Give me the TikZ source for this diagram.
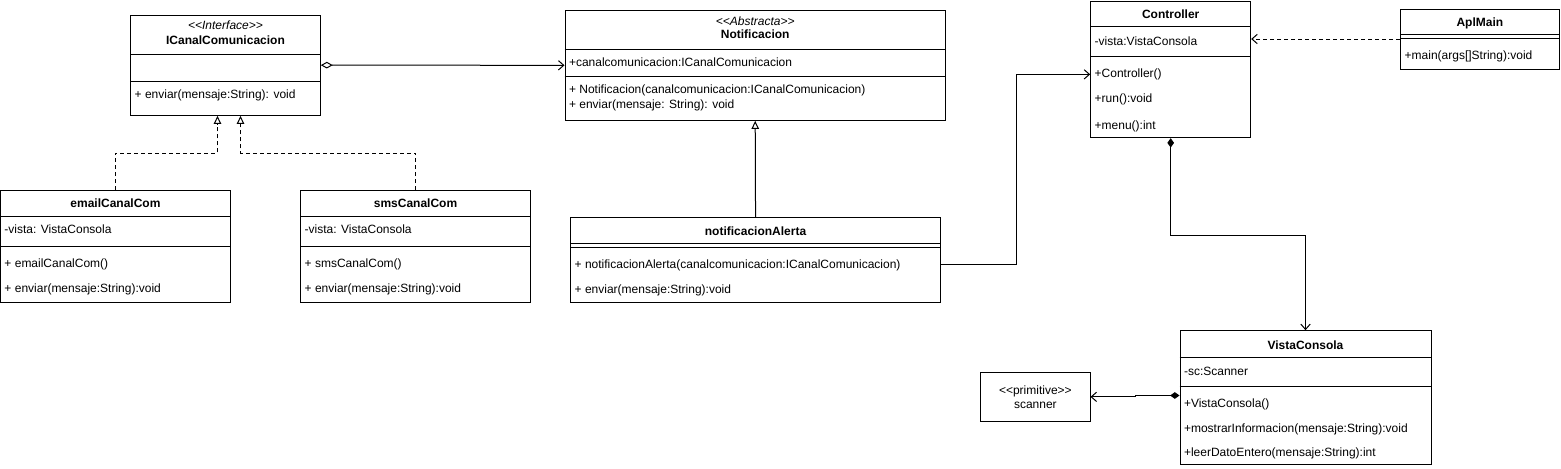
\documentclass[tikz,border=0pt]{standalone}
\usepackage{fontspec}
\setmainfont{Liberation Sans}
\usetikzlibrary{arrows.meta,fit,calc}

\begin{document}
\begin{tikzpicture}[x=0.75pt, y=-0.75pt, line width=0.75pt,
  every node/.style={font=\fontsize{9}{10.8}\selectfont},
  classbox/.style={draw, rectangle, inner sep=0pt, fit={#1}},
  classname/.style={font=\fontsize{9}{10.8}\selectfont\bfseries, inner sep=0pt},
  stereo/.style={font=\fontsize{9}{10.8}\selectfont\itshape, inner sep=0pt},
  member/.style={anchor=west, inner sep=0pt, xshift=3pt},
  aggreg/.style={{Diamond[open,length=9pt,width=5pt]}-{Straight Barb[length=4pt,width=7pt]}},
  compose/.style={{Diamond[length=7pt,width=5pt]}-{Straight Barb[length=4pt,width=7pt]}},
  realize/.style={dash pattern=on 3pt off 2.25pt, -{Triangle[open,length=6pt,width=5.5pt]}},
  inherit/.style={-{Triangle[open,length=6pt,width=5.5pt]}},
  assoc/.style={-{Straight Barb[length=4pt,width=7pt]}},
  depend/.style={dash pattern=on 3pt off 2.25pt, -{Straight Barb[length=4pt,width=7pt]}}]
  \useasboundingbox (0,0) rectangle (1561,468);

  % interface
  \node[classbox={(130.7,15) (320.3,115.3)}] (icanal) {};
  \node[stereo] (icanal-st) at (icanal.center |- 0,25) {<{}<Interface>{}>};
  \node[classname] (icanal-t) at (icanal.center |- 0,40.3) {ICanalComunicacion};
  \draw (icanal.west |- 0,54.3) -- (icanal.east |- 0,54.3);
  \draw (icanal.west |- 0,81) -- (icanal.east |- 0,81);
  \node[member] (icanal-m1) at (icanal.west |- 0,95) {+ enviar(mensaje:String): void};

  % abstract class
  \node[classbox={(565,10.3) (945.4,120.3)}] (notif) {};
  \node[stereo] (notif-st) at (notif.center |- 0,21.3) {<{}<Abstracta>{}>};
  \node[classname] (notif-t) at (notif.center |- 0,34.7) {Notificacion};
  \draw (notif.west |- 0,49.3) -- (notif.east |- 0,49.3);
  \node[member] (notif-a1) at (notif.west |- 0,62.7) {+canalcomunicacion:ICanalComunicacion};
  \draw (notif.west |- 0,76) -- (notif.east |- 0,76);
  \node[member] (notif-m1) at (notif.west |- 0,90) {+ Notificacion(canalcomunicacion:ICanalComunicacion)};
  \node[member] (notif-m2) at (notif.west |- 0,105) {+ enviar(mensaje: String): void};

  % channels
  \node[classbox={(0.5,190.7) (230.4,302.3)}] (email) {};
  \node[classname] (email-t) at (email.center |- 0,203.3) {emailCanalCom};
  \draw (email.west |- 0,216) -- (email.east |- 0,216);
  \node[member] (email-a1) at (email.west |- 0,229.7) {-vista: VistaConsola};
  \draw (email.west |- 0,246.7) -- (email.east |- 0,246.7);
  \node[member] (email-m1) at (email.west |- 0,264) {+ emailCanalCom()};
  \node[member] (email-m2) at (email.west |- 0,289.3) {+ enviar(mensaje:String):void};

  \node[classbox={(300.7,190.7) (530.4,302.3)}] (sms) {};
  \node[classname] (sms-t) at (sms.center |- 0,203.3) {smsCanalCom};
  \draw (sms.west |- 0,216) -- (sms.east |- 0,216);
  \node[member] (sms-a1) at (sms.west |- 0,229.7) {-vista: VistaConsola};
  \draw (sms.west |- 0,246.7) -- (sms.east |- 0,246.7);
  \node[member] (sms-m1) at (sms.west |- 0,264) {+ smsCanalCom()};
  \node[member] (sms-m2) at (sms.west |- 0,289.3) {+ enviar(mensaje:String):void};

  % concrete notification
  \node[classbox={(570.7,217.3) (940.4,302.7)}] (alerta) {};
  \node[classname] (alerta-t) at (alerta.center |- 0,231) {notificacionAlerta};
  \draw (alerta.west |- 0,243.3) -- (alerta.east |- 0,243.3);
  \draw (alerta.west |- 0,247.3) -- (alerta.east |- 0,247.3);
  \node[member] (alerta-m1) at (alerta.west |- 0,265) {+ notificacionAlerta(canalcomunicacion:ICanalComunicacion)};
  \node[member] (alerta-m2) at (alerta.west |- 0,290.7) {+ enviar(mensaje:String):void};

  % controller
  \node[classbox={(1090.7,1) (1250.7,137.7)}] (ctrl) {};
  \node[classname] (ctrl-t) at (ctrl.center |- 0,14.3) {Controller};
  \draw (ctrl.west |- 0,26.7) -- (ctrl.east |- 0,26.7);
  \node[member] (ctrl-a1) at (ctrl.west |- 0,41) {-vista:VistaConsola};
  \draw (ctrl.west |- 0,56) -- (ctrl.east |- 0,56);
  \node[member] (ctrl-m1) at (ctrl.west |- 0,74) {+Controller()};
  \node[member] (ctrl-m2) at (ctrl.west |- 0,99.3) {+run():void};
  \node[member] (ctrl-m3) at (ctrl.west |- 0,126) {+menu():int};

  \node[classbox={(1400.7,9) (1559,69)}] (apl) {};
  \node[classname] (apl-t) at (apl.center |- 0,23) {AplMain};
  \draw (apl.west |- 0,34.3) -- (apl.east |- 0,34.3);
  \draw (apl.west |- 0,38.3) -- (apl.east |- 0,38.3);
  \node[member] (apl-m1) at (apl.west |- 0,56.7) {+main(args[]String):void};

  % view
  \node[classbox={(1180,330.7) (1431,464.3)}] (vista) {};
  \node[classname] (vista-t) at (vista.center |- 0,345) {VistaConsola};
  \draw (vista.west |- 0,357.3) -- (vista.east |- 0,357.3);
  \node[member] (vista-a1) at (vista.west |- 0,371) {-sc:Scanner};
  \draw (vista.west |- 0,386) -- (vista.east |- 0,386);
  \node[member] (vista-m1) at (vista.west |- 0,404.3) {+VistaConsola()};
  \node[member] (vista-m2) at (vista.west |- 0,429) {+mostrarInformacion(mensaje:String):void};
  \node[member] (vista-m3) at (vista.west |- 0,453.3) {+leerDatoEntero(mensaje:String):int};

  \node[classbox={(980.7,372) (1090,421.7)}] (scanner) {};
  \node[inner sep=0pt] (scanner-st) at (scanner.center |- 0,391) {<{}<primitive>{}>};
  \node[inner sep=0pt] (scanner-t) at (scanner.center |- 0,405) {scanner};

  % relations
  \coordinate (r1) at (217.5,153);
  \coordinate (r2) at (240.5,153);
  \draw[aggreg] (icanal.east) -- (notif.west);
  \draw[realize] (email.north) |- (r1) -- (r1 |- icanal.south);
  \draw[realize] (sms.north) |- (r2) -- (r2 |- icanal.south);
  \draw[inherit] (alerta.north) -- (notif.south);
  \draw[assoc] ($(alerta.east)+(0,4)$) -- ++(75.5,0) |- ($(ctrl.west)+(0,5)$);
  \draw[depend] (apl.west) -- (apl.west -| ctrl.east);
  \draw[compose] (ctrl.south) -- ++(0,97.5) -| (vista.north);
  \draw[compose] ($(vista.west)+(0,-2)$) -- ++(-44,0) |- (scanner.east);
\end{tikzpicture}
\end{document}
